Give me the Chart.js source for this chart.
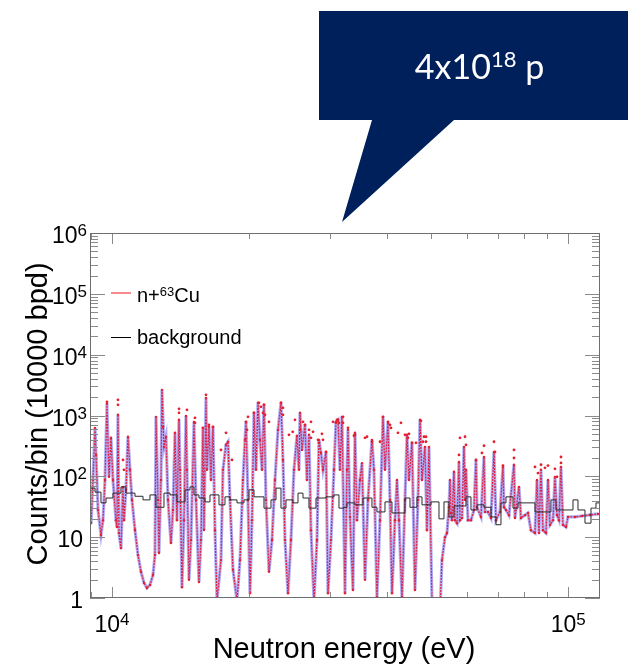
<!DOCTYPE html>
<html>
<head>
<meta charset="utf-8">
<script src="https://cdn.jsdelivr.net/npm/chart.js@4.4.1/dist/chart.umd.min.js"></script>
<style>
  html, body { margin: 0; padding: 0; background: #fff; }
  #wrap { position: relative; width: 628px; height: 666px; }
  #bubble {
    position: absolute; left: 319px; top: 11px; width: 309px; height: 211px;
    background: #00205b;
    clip-path: polygon(0 0, 309px 0, 309px 109px, 135px 109px, 23px 211px, 53px 109px, 0 109px);
  }
  #bubbleText {
    position: absolute; left: 319px; top: 11px; width: 309px; height: 109px;
    display: flex; align-items: center; justify-content: center; padding-left: 12px; box-sizing: border-box;
    color: #fff; font-family: Lato, "Open Sans", sans-serif; font-size: 34px;
  }
  #bubbleText sup { font-size: 22px; vertical-align: 12px; line-height: 0; }
</style>
</head>
<body>
<div id="wrap">
  <canvas id="chart" width="628" height="666"></canvas>
  <div id="bubble"></div>
  <div id="bubbleText"><span>4x10<sup>18</sup> p</span></div>
</div>
<script>
// n+63Cu spectrum (energy in eV, counts per bin)
const cuEnergy = [9000, 9085, 9180, 9227, 9320, 9460, 9556, 9653, 9750, 9850, 9950, 10050, 10203, 10255, 10307, 10359, 10465, 10571, 10624, 10732,
  10841, 10951, 11062, 11231, 11402, 11576, 11753, 11931, 12114, 12300, 12424, 12487, 12614, 12678, 12805, 12870, 13001, 13133, 13267, 13468,
  13605, 13743, 13882, 14024, 14095, 14237, 14382, 14528, 14601, 14750, 14899, 15127, 15280, 15513, 15671, 15831, 15910, 16071, 16152, 16316,
  16482, 16649, 16818, 16988, 17335, 17510, 17778, 17958, 18141, 18418, 18793, 19080, 19370, 19567, 19666, 19866, 20067, 20270, 20476, 20684,
  20894, 21106, 21320, 21536, 21754, 22087, 22423, 22766, 23114, 23466, 23704, 23944, 24310, 24680, 25057, 25439, 25698, 25827, 26088, 26487,
  26755, 27027, 27301, 27720, 28141, 28426, 28714, 29005, 29447, 29747, 30200, 30662, 30972, 31286, 31604, 31925, 32412, 32740, 32906, 33240,
  33746, 34090, 34435, 34961, 35314, 35854, 36400, 37139, 37515, 38089, 38674, 39263, 39662, 40268, 40676, 41089, 41715, 42137, 42567, 43216,
  43875, 44318, 44769, 45450, 46146, 46852, 47325, 47804, 48535, 49025, 49522, 50278, 52352, 52881, 53690, 54233, 54783, 55062, 55340, 55620,
  56185, 56469, 57040, 57620, 57912, 58496, 59094, 59392, 59692, 60298, 61217, 62152, 62781, 63098, 64387, 65370, 65700, 66702, 67720, 68754,
  69450, 70867, 71952, 72315, 73045, 74160, 76054, 76440, 78000, 78790, 80397, 81623, 82867, 84558, 85413, 86283, 87157, 88037, 89385, 90294,
  91209, 92601, 93540, 94484, 95446, 96414, 97390, 98880, 99878, 103474, 107216, 111612, 116227];
const cuCounts = [17, 87, 627, 225, 28, 10.9, 19, 87, 1556, 98, 430, 87, 19, 14.7, 1026, 11.7, 6.6, 67, 19, 60,
  447, 128, 41, 13.1, 5.1, 2.7, 1.77, 1.46, 1.64, 2.4, 5.1, 951, 41, 5.5, 87, 2640, 305, 447, 41, 8.0,
  28, 520, 19, 849, 128, 1.5, 19, 985, 128, 2.0, 9, 787, 41, 1.83, 9, 627, 13.1, 1950, 128, 651,
  87, 651, 13, 0.9, 4.2, 128, 330, 370, 41, 2.9, 0.9, 4.2, 87, 398, 787, 41, 1.2, 19, 1107, 128,
  1616, 398, 128, 1498, 41, 2.7, 9, 87, 581, 1616, 186, 9, 1.2, 9, 128, 465, 128, 1107, 272, 702,
  87, 482, 13, 0.9, 9, 398, 243, 128, 252, 1.2, 9, 128, 787, 849, 128, 951, 1.2, 128, 581, 21.5,
  1.35, 520, 19, 87, 165, 2.0, 41, 398, 128, 1.04, 19, 951, 128, 758, 41, 1.2, 19, 87, 19, 1.04,
  41, 482, 87, 356, 1.35, 41, 849, 87, 305, 13, 305, 0.9, 0.6, 4.2, 10, 11.7, 31, 87, 25, 19,
  119, 19, 17, 172, 19, 20.7, 305, 41, 128, 19, 19, 28, 186, 31, 21.5, 208, 26, 26, 20.7, 252,
  19, 26, 143, 31, 28, 23, 155, 20.7, 67, 20.7, 23, 25, 13, 11.7, 87, 11.7, 128, 13, 11.7, 87,
  15.9, 19, 98, 23, 19, 143, 15.9, 14.7, 21.5, 21.5, 22.3, 23.2, 24.1];

// isolated red points on top of the resonances
const peakEnergy = [9750, 10307, 10307, 10571, 10624, 12935, 14024, 14024, 14601, 15203, 15203, 16071, 15831, 16316, 16649, 17335, 17778, 18325,
  19666, 19866, 20476, 21000, 21213, 21536, 21645, 22087, 23466, 23704, 23704, 24432, 25184, 26222, 26487, 27027, 27301, 28285, 28426,
  29005, 29447, 30508, 31286, 31445, 32088, 32088, 32906, 34090, 35854, 37141, 38674, 39263, 40268, 40676, 42349, 43875, 44541, 45450,
  47563, 48045, 48780, 48780, 27301, 31129, 59392, 59692, 57620, 62781, 65370, 68754, 69101, 71952, 76054, 76054, 84558, 87157, 88936,
  90294, 93540, 96414, 96414, 85844, 94484,
  19767, 21426, 24900, 25827, 27580, 28855, 30972, 33916, 36220, 40880, 42991, 44767, 46379, 48292, 57912, 64710];
const peakCounts = [1678, 1810, 1498, 186, 128, 651, 1288, 1107, 1240, 915, 758, 2184, 627, 702, 651, 272, 520, 186,
  787, 951, 1107, 1616, 1390, 1498, 1026, 787, 1616, 1338, 1026, 482, 849, 787, 702, 581, 430, 398, 356,
  398, 252, 787, 849, 758, 951, 758, 627, 482, 430, 370, 370, 951, 787, 702, 520, 482, 430, 356,
  817, 370, 447, 370, 787, 849, 447, 330, 225, 186, 318, 370, 252, 150, 272, 200, 143, 155, 138,
  150, 133, 208, 166, 113, 98,
  581, 1107, 540, 581, 540, 500, 758, 465, 447, 625, 758, 500, 356, 447, 430, 243];

// background histogram: left bin edges (eV) and counts
const bgEdges = [8950, 9180, 9460, 9702, 10050, 10465, 10732, 11231, 11694, 12114, 12487, 13001, 13401, 13882, 14455, 14824, 15127, 15513,
  15990, 16399, 17162, 17689, 18141, 18793, 19470, 19966, 20476, 21536, 22311, 22881, 23466, 24065, 24932, 25569, 26222, 27027, 27999,
  29448, 30662, 31445, 32249, 32740, 34090, 35495, 37141, 38091, 39662, 41087, 43875, 44996, 46612, 47803, 50026, 52089, 53420, 54785,
  56185, 59692, 61218, 63098, 65370, 67719, 69450, 71225, 73045, 75676, 77609, 84558, 91670, 94012, 102439, 105058, 108831, 112176, 115042];
const bgCounts = [64, 55, 36.6, 44, 53, 67, 53, 47, 41, 49.5, 31, 53, 49.5, 38, 60, 67, 49.5, 44,
  38, 49.5, 34, 46, 41, 36.6, 41, 60, 46, 30, 41, 64, 30, 41, 36.6, 53, 44, 30, 44,
  46, 49.5, 30, 31, 36.6, 34, 44, 31, 26, 38, 25, 44, 31, 46, 34, 38, 20, 38, 21.5,
  32.6, 46, 28, 34, 31, 21.5, 16, 36.6, 46, 30, 36.6, 26, 41, 28, 41, 28, 17, 30, 36.6];
const bgEnd = 117400;

const xMin = 8950, xMax = 117400;
const yMin = 1, yMax = 1e6;
const xTickExp = [4, 5];
const yTickExp = [0, 1, 2, 3, 4, 5, 6];

const toPoints = (xs, ys) => xs.map((x, i) => ({ x: x, y: ys[i] }));
const bgPoints = toPoints(bgEdges, bgCounts).concat([{ x: bgEnd, y: bgCounts[bgCounts.length - 1] }]);

const FONT = '"Liberation Sans", Arial, Helvetica, sans-serif';

// "10" with a raised exponent; x is the right edge or the centre of the whole label
function drawPower(ctx, exp, x, y, align, size) {
  const sup = Math.round(size * 0.72);
  ctx.font = size + 'px ' + FONT;
  if (exp <= 1) {
    ctx.textAlign = align;
    ctx.fillText(exp === 0 ? '1' : '10', x, y);
    return;
  }
  const w1 = ctx.measureText('10').width;
  ctx.font = sup + 'px ' + FONT;
  const w2 = ctx.measureText(String(exp)).width;
  let left = x;
  if (align === 'right') left = x - w1 - w2;
  if (align === 'center') left = x - (w1 + w2) / 2;
  ctx.textAlign = 'left';
  ctx.font = size + 'px ' + FONT;
  ctx.fillText('10', left, y);
  ctx.font = sup + 'px ' + FONT;
  ctx.fillText(String(exp), left + w1, y - size * 0.3);
}

const framePlugin = {
  id: 'frame',
  afterDraw(chart) {
    const ctx = chart.ctx;
    const a = chart.chartArea;
    const xs = chart.scales.x, ys = chart.scales.y;
    ctx.save();

    // ticks, ROOT style (inside, on all four sides)
    ctx.strokeStyle = '#8a8a8a';
    ctx.lineWidth = 1;
    ctx.beginPath();
    for (let d = 0; d <= 6; d++) {
      for (let m = 1; m <= 9; m++) {
        const v = Math.pow(10, d) * m;
        if (v > yMax) break;
        const py = Math.round(ys.getPixelForValue(v)) + 0.5;
        const len = m === 1 ? 15 : 8;
        ctx.moveTo(a.left, py); ctx.lineTo(a.left + len, py);
        ctx.moveTo(a.right, py); ctx.lineTo(a.right - len, py);
      }
    }
    for (let d = 3; d <= 5; d++) {
      for (let m = 1; m <= 9; m++) {
        const v = Math.pow(10, d) * m;
        if (v < xMin || v > xMax) continue;
        const px = Math.round(xs.getPixelForValue(v)) + 0.5;
        const len = m === 1 ? 11 : 6;
        ctx.moveTo(px, a.bottom); ctx.lineTo(px, a.bottom - len);
        ctx.moveTo(px, a.top); ctx.lineTo(px, a.top + len);
      }
    }
    ctx.stroke();

    ctx.strokeStyle = '#6e6e6e';
    ctx.strokeRect(a.left + 0.5, a.top + 0.5, a.width - 1, a.height - 1);

    // tick labels
    ctx.fillStyle = '#000';
    ctx.textBaseline = 'alphabetic';
    yTickExp.forEach(e => {
      const py = ys.getPixelForValue(Math.pow(10, e));
      drawPower(ctx, e, e <= 1 ? a.left - 7 : a.left - 3, py + 10, 'right', 23);
    });
    xTickExp.forEach(e => {
      const px = xs.getPixelForValue(Math.pow(10, e));
      drawPower(ctx, e, px, 632, 'center', 23);
    });

    // axis titles
    ctx.font = '29px ' + FONT;
    ctx.textAlign = 'center';
    ctx.fillText('Neutron energy (eV)', 344, 658);
    ctx.save();
    ctx.translate(47, 414);
    ctx.rotate(-Math.PI / 2);
    ctx.fillText('Counts/bin (10000 bpd)', 0, 0);
    ctx.restore();

    // legend
    ctx.lineWidth = 1.2;
    ctx.strokeStyle = '#f03c46';
    ctx.beginPath(); ctx.moveTo(111, 293); ctx.lineTo(131, 293); ctx.stroke();
    ctx.lineWidth = 1;
    ctx.strokeStyle = '#000';
    ctx.beginPath(); ctx.moveTo(111, 337.5); ctx.lineTo(131, 337.5); ctx.stroke();
    ctx.textAlign = 'left';
    ctx.font = '20px ' + FONT;
    ctx.fillText('n+', 137, 302);
    let w = ctx.measureText('n+').width;
    ctx.font = '13px ' + FONT;
    ctx.fillText('63', 137 + w, 296);
    w += ctx.measureText('63').width;
    ctx.font = '20px ' + FONT;
    ctx.fillText('Cu', 137 + w, 302);
    ctx.fillText('background', 137, 344);

    ctx.restore();
  }
};

new Chart(document.getElementById('chart'), {
  type: 'scatter',
  data: {
    datasets: [
      {
        label: 'background',
        data: bgPoints,
        showLine: true,
        stepped: 'before',
        borderColor: '#2a2a2a',
        borderWidth: 1,
        pointRadius: 0
      },
      {
        label: 'n+63Cu peaks',
        data: toPoints(peakEnergy, peakCounts),
        showLine: false,
        pointRadius: 1.4,
        pointBorderWidth: 0,
        pointBackgroundColor: '#e5202e'
      },
      {
        label: 'n+63Cu',
        data: toPoints(cuEnergy, cuCounts),
        showLine: true,
        borderColor: 'rgba(225, 20, 50, 0.9)',
        borderWidth: 1.3,
        borderDash: [2, 1],
        pointRadius: 1.2,
        pointBorderWidth: 0,
        pointBackgroundColor: '#e5202e'
      },
      {
        label: 'n+63Cu errors',
        data: toPoints(cuEnergy, cuCounts),
        showLine: true,
        borderColor: 'rgba(80, 80, 245, 0.45)',
        borderWidth: 3.2,
        pointRadius: 0
      }
    ]
  },
  options: {
    responsive: false,
    animation: false,
    layout: { padding: { left: 90, right: 28, top: 233, bottom: 68 } },
    plugins: { legend: { display: false }, tooltip: { enabled: false } },
    scales: {
      x: { type: 'logarithmic', min: xMin, max: xMax, display: false },
      y: { type: 'logarithmic', min: yMin, max: yMax, display: false }
    }
  },
  plugins: [framePlugin]
});
</script>
</body>
</html>
